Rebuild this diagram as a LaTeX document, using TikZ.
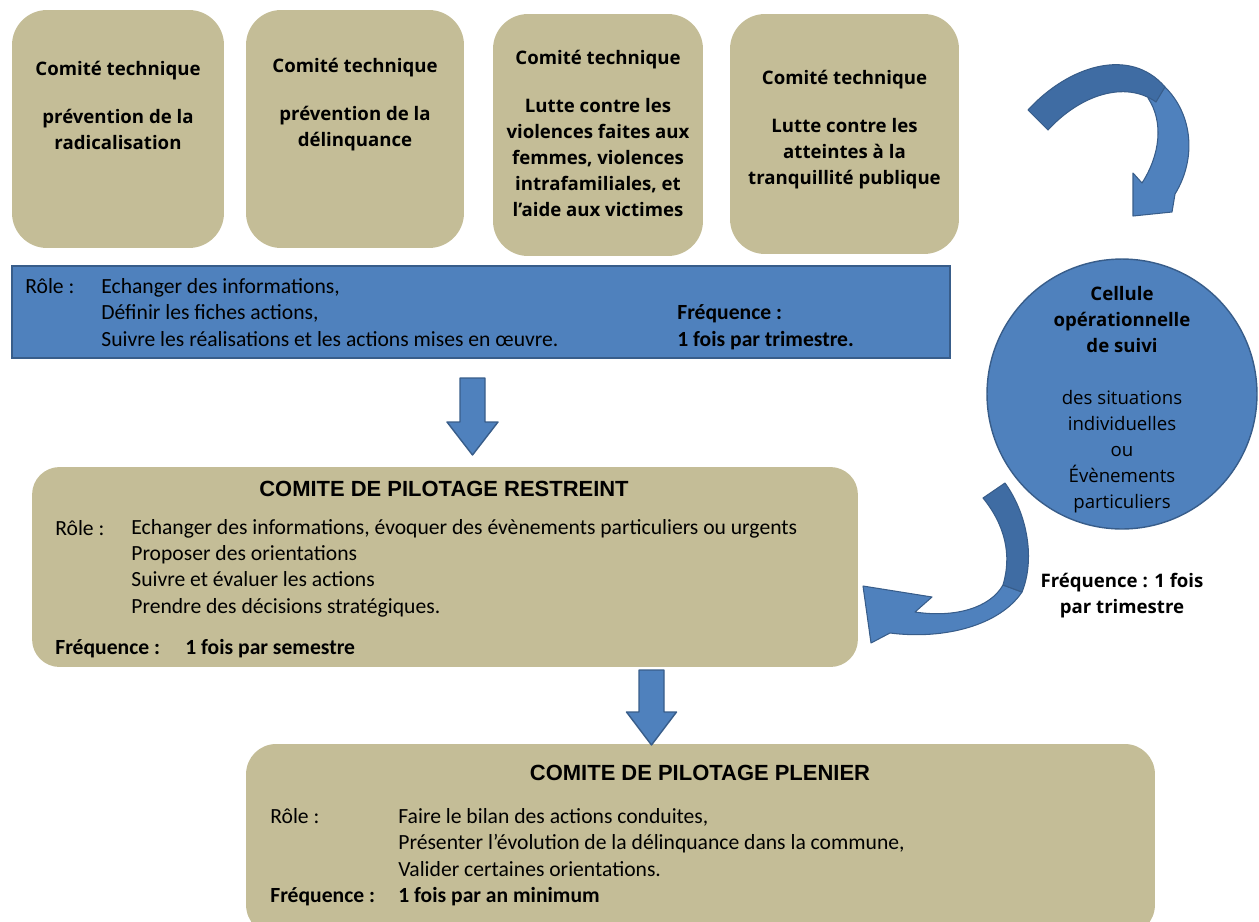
\documentclass[tikz,border=0pt]{standalone}
\usepackage{fontspec}
\setmainfont{Carlito}
\newfontfamily\ctfont{Open Sans}
\newfontfamily\headfont{Liberation Sans}
\usetikzlibrary{positioning,calc}

\definecolor{tan}{HTML}{C4BD97}
\definecolor{bleu}{HTML}{4F81BD}
\definecolor{bleufonce}{HTML}{385D8A}
\definecolor{bleuombre}{HTML}{3F6CA3}

\begin{document}
\begin{tikzpicture}[
  x=0.02cm, y=-0.02cm,
  ctbox/.style={rectangle, rounded corners=0.7cm, fill=tan, draw=none, inner sep=0pt},
  cttext/.style={anchor=base, align=center, inner sep=0pt, font=\ctfont\bfseries\fontsize{10.6}{14.7}\selectfont},
  copil/.style={rectangle, rounded corners=0.55cm, fill=tan, draw=none, inner sep=0pt},
  titre/.style={anchor=base, inner sep=0pt, font=\headfont\bfseries\fontsize{12.5}{15}\selectfont},
  corps/.style={anchor=base west, align=left, inner sep=0pt, font=\fontsize{12.3}{14.9}\selectfont},
  blockarrow/.style={fill=bleu, draw=bleufonce, line width=0.8pt, line join=round},
  curvearrow/.style={fill=bleu, draw=bleufonce, line width=0.6pt, line join=round},
  curveback/.style={fill=bleuombre, draw=bleufonce, line width=0.6pt, line join=round}
]
\useasboundingbox (0,0) rectangle (1259,921);
\clip (0,0) rectangle (1259,921);

% Comites techniques (texte place sur la derniere ligne)
\node[ctbox, minimum width=4.24cm, minimum height=4.76cm] (ct1) at (118,129) {};
\node[ctbox, minimum width=4.36cm, minimum height=4.76cm] (ct2) at (355,129) {};
\node[ctbox, minimum width=4.2cm, minimum height=4.84cm] (ct3) at (598,135) {};
\node[ctbox, minimum width=4.58cm, minimum height=4.8cm] (ct4) at (844.5,134) {};

\node[cttext] (ct1t) at (118,149) {Comité technique\\[12.5pt]prévention de la\\radicalisation};
\node[cttext] (ct2t) at (355,146) {Comité technique\\[12.5pt]prévention de la\\délinquance};
\node[cttext] (ct3t) at (598,216) {Comité technique\\[12.5pt]Lutte contre les\\violences faites aux\\femmes, violences\\intrafamiliales, et\\l’aide aux victimes};
\node[cttext] (ct4t) at (844.5,184) {Comité technique\\[12.5pt]Lutte contre les\\atteintes à la\\tranquillité publique};

% Role des comites techniques
\node[rectangle, fill=bleu, draw=bleufonce, line width=0.8pt, minimum width=18.76cm, minimum height=1.84cm] (role) at (481,312) {};
\node[corps] (rolel) at (25,293) {Rôle :};
\node[corps] (rolet) at (101,346) {Echanger des informations,\\Définir les fiches actions,\\Suivre les réalisations et les actions mises en œuvre.};
\node[corps, font=\bfseries\fontsize{12.3}{15}\selectfont] (rolef) at (677,346) {Fréquence :\\1 fois par trimestre.};

% Cellule operationnelle
\node[circle, fill=bleu, draw=bleufonce, line width=0.8pt, minimum size=5.4cm] (cell) at (1122,394) {};
\node[anchor=base, align=center, inner sep=0pt, font=\ctfont\fontsize{10.6}{14.75}\selectfont] (cellt) at (1122,508)
  {\textbf{Cellule}\\\textbf{opérationnelle}\\\textbf{de suivi}\\[14.75pt]des situations\\individuelles\\ou\\Évènements\\particuliers};
\node[cttext] (cellf) at (1122,613) {Fréquence : 1 fois\\par trimestre};

% Comite de pilotage restreint
\node[copil, minimum width=16.52cm, minimum height=4cm] (copr) at (445,567) {};
\node[titre] (coprt) at (444,496) {COMITE DE PILOTAGE RESTREINT};
\node[corps] (coprl) at (55,535) {Rôle :};
\node[corps] (coprr) at (131,613) {Echanger des informations, évoquer des évènements particuliers ou urgents\\Proposer des orientations\\Suivre et évaluer les actions\\Prendre des décisions stratégiques.};
\node[corps, font=\bfseries\fontsize{12.3}{15}\selectfont] (coprf) at (55,654) {Fréquence :};
\node[corps, font=\bfseries\fontsize{12.3}{15}\selectfont] (coprv) at (185,654) {1 fois par semestre};

% Comite de pilotage plenier
\node[copil, rounded corners=0.6cm, minimum width=18.18cm, minimum height=3.82cm] (copp) at (700.5,839.5) {};
\node[titre] (coppt) at (700,780) {COMITE DE PILOTAGE PLENIER};
\node[corps] (coppl) at (270,823) {Rôle :};
\node[corps, font=\fontsize{12.3}{15}\selectfont] (coppr) at (398,876) {Faire le bilan des actions conduites,\\Présenter l’évolution de la délinquance dans la commune,\\Valider certaines orientations.};
\node[corps, font=\bfseries\fontsize{12.3}{15}\selectfont] (coppf) at (270,902) {Fréquence :};
\node[corps, font=\bfseries\fontsize{12.3}{15}\selectfont] (coppv) at (398,902) {1 fois par an minimum};

% Fleches droites
\coordinate (a1) at (472.5,378);
\coordinate (a2) at (651.5,670);
\draw[blockarrow] (a1) ++(-12.5,0) -- ++(25,0) -- ++(0,44) -- ++(13,0) -- ++(-25.5,33) -- ++(-25.5,-33) -- ++(13,0) -- cycle;
\draw[blockarrow] (a2) ++(-12.5,0) -- ++(25,0) -- ++(0,42) -- ++(12.5,0) -- ++(-25,33) -- ++(-25,-33) -- ++(12.5,0) -- cycle;

% Fleche courbe vers la cellule
\draw[curvearrow] (1148,98) -- (1164,86) .. controls (1194,115) and (1196,160) .. (1175,194)
  -- (1172,212) -- (1133,216) -- (1133,173) -- (1142,183) .. controls (1160,155) and (1164,122) .. (1148,98) -- cycle;
\draw[curveback] (1028,110) .. controls (1068,66) and (1130,46) .. (1165,87) -- (1156,102)
  .. controls (1125,80) and (1080,95) .. (1048,130) -- cycle;

% Fleche courbe vers le comite restreint
\draw[curvearrow] (1003,585) -- (1022,592) .. controls (1000,625) and (945,640) .. (890,633)
  -- (871,643) -- (863,586) -- (932,597) -- (915,612) .. controls (955,618) and (990,608) .. (1003,585) -- cycle;
\draw[curveback] (983,498) -- (1005,483) .. controls (1028,515) and (1035,560) .. (1022,592) -- (1003,585)
  .. controls (1012,555) and (1005,525) .. (983,498) -- cycle;

\end{tikzpicture}
\end{document}
